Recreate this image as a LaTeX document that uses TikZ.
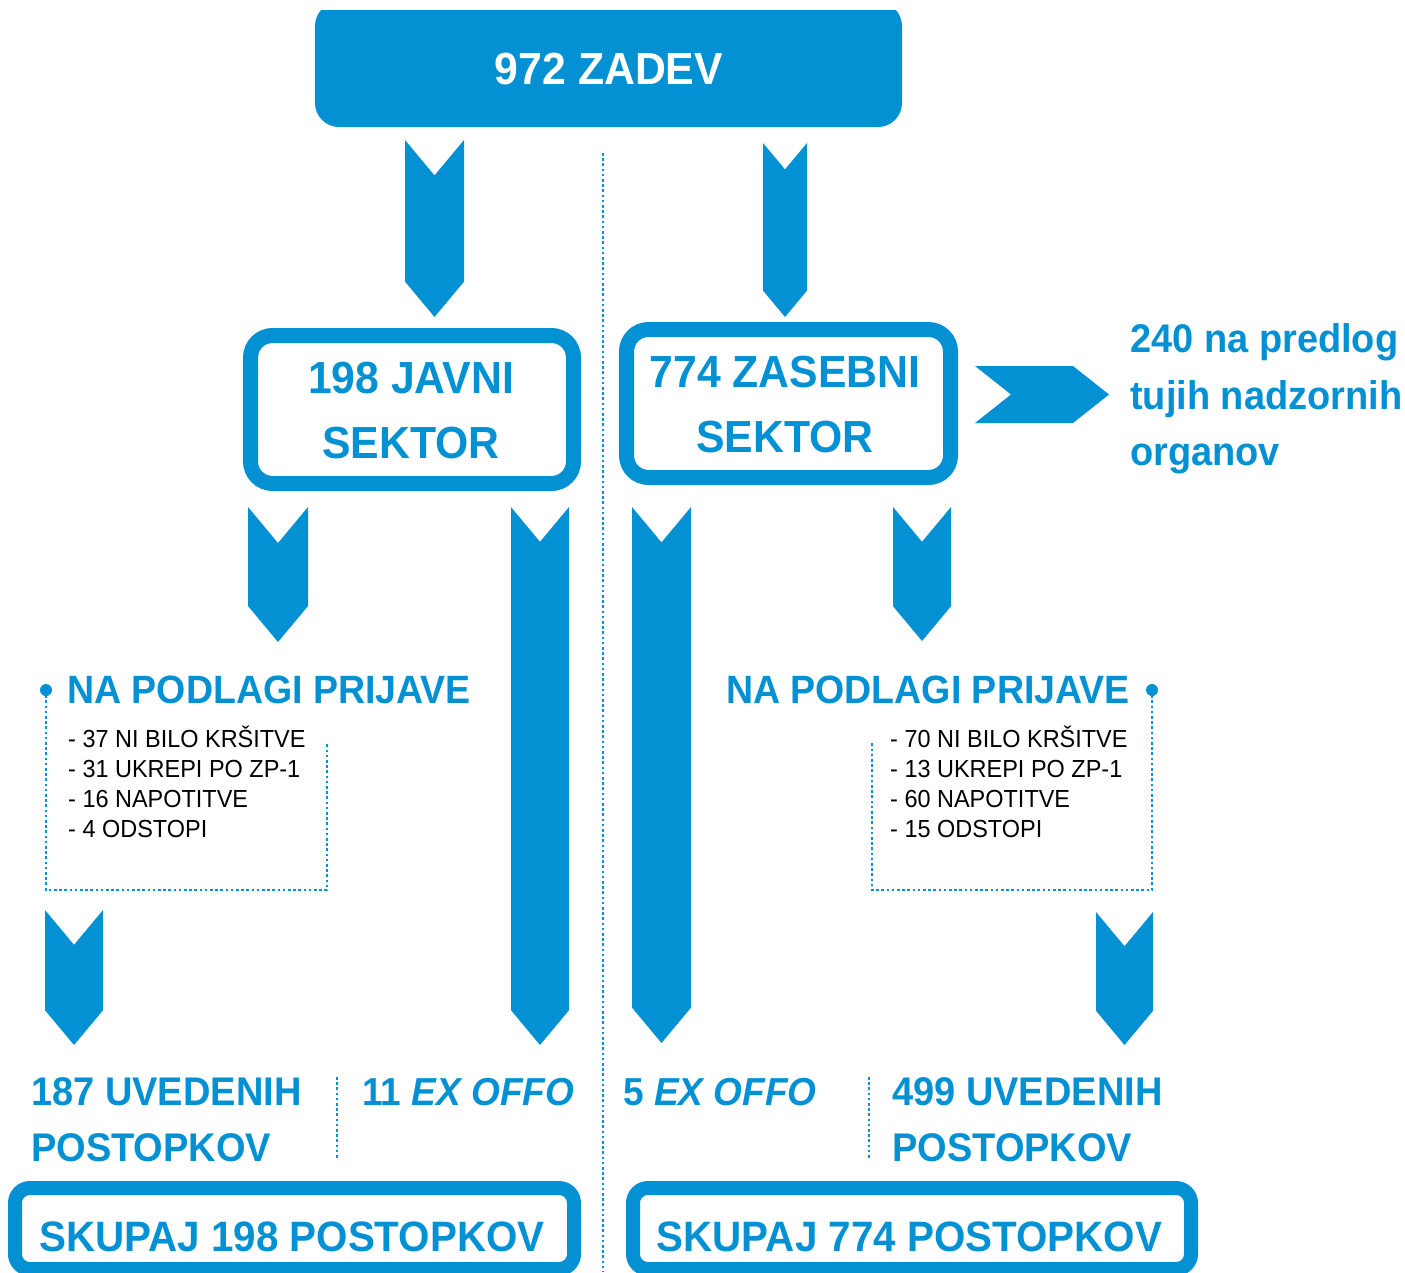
\documentclass[tikz,border=0pt]{standalone}
\usepackage{fontspec}
\setmainfont{Liberation Sans}
\newfontfamily\bfam[FakeStretch=0.95]{Liberation Sans}
\definecolor{myblue}{HTML}{0391D3}
\newcommand\fsz[1]{\fontsize{#1}{#1}\selectfont}
\newcommand\downchev[4]{\fill[chevfill] (#1,#3) -- ({(#1+#2)/2},{#3+0.6*(#2-#1)}) -- (#2,#3) -- (#2,{#4-0.6*(#2-#1)}) -- ({(#1+#2)/2},#4) -- (#1,{#4-0.6*(#2-#1)}) -- cycle;}
\begin{document}
\begin{tikzpicture}[x=1pt,y=-1pt,
  chevfill/.style={fill=myblue},
  bluebox/.style={draw=myblue, line width=15pt, rounded corners=22pt, inner sep=0pt},
  sumbox/.style={draw=myblue, line width=14pt, rounded corners=15pt, inner sep=0pt},
  lab/.style={text=myblue, font=\bfam\bfseries\fsz{#1}, inner sep=0pt},
  item/.style={text=black, font=\bfam\fsz{24.7}, inner sep=0pt, anchor=base west},
  dotline/.style={draw=myblue, line width=2.8pt, dash pattern=on 2.6pt off 2.6pt},
  bigdot/.style={circle, fill=myblue, minimum size=12pt, inner sep=0pt}]
\useasboundingbox (0,0) rectangle (1405,1272);
% top box
\begin{scope}
\clip (0,10) rectangle (1405,200);
\node[fill=myblue, rounded corners=24pt, minimum width=587pt, minimum height=125pt, inner sep=0pt] (top) at (608.5,64.5) {};
\end{scope}
\node[lab=45, text=white, anchor=base] (toptxt) at (609,84) {972 ZADEV};
% center dotted line
\coordinate (cA) at (603,153);
\coordinate (cB) at (603,1272);
\draw[dotline] (cA) -- (cB);
% first arrows
\downchev{405}{464}{140}{317}
\downchev{763}{807}{143}{317}
% sector boxes
\node[bluebox, minimum width=323pt, minimum height=148pt] (pub) at (412,409.5) {};
\node[lab=45, anchor=base] (pub1) at (411,393) {198 JAVNI};
\node[lab=45, anchor=base] (pub2) at (411,458) {SEKTOR};
\node[bluebox, minimum width=324pt, minimum height=148pt] (priv) at (788.5,403.5) {};
\node[lab=45, anchor=base] (priv1) at (785,387) {774 ZASEBNI};
\node[lab=45, anchor=base] (priv2) at (785,452) {SEKTOR};
% right chevron
\fill[chevfill] (975,366) -- (1011,394.5) -- (975,423) -- (1073,423) -- (1109,394.5) -- (1073,366) -- cycle;
\node[lab=40, anchor=base west] (for1) at (1130,352) {240 na predlog};
\node[lab=40, anchor=base west] (for2) at (1130,409) {tujih nadzornih};
\node[lab=40, anchor=base west] (for3) at (1130,465) {organov};
% second row arrows
\downchev{248}{308}{507}{642}
\downchev{511}{569}{507}{1045}
\downchev{632}{691}{507}{1043}
\downchev{893}{951}{507}{641}
% left detail
\node[lab=39.5, anchor=base west] (napL) at (67,703) {NA PODLAGI PRIJAVE};
\node[bigdot] (dotL) at (46,690) {};
\draw[dotline] (dotL.center) -- (46,890) -- (327,890) -- (327,743);
\node[item] (l1) at (68,747) {- 37 NI BILO KRŠITVE};
\node[item] (l2) at (68,777) {- 31 UKREPI PO ZP-1};
\node[item] (l3) at (68,807) {- 16 NAPOTITVE};
\node[item] (l4) at (68,837) {- 4 ODSTOPI};
% right detail
\node[lab=39.5, anchor=base east] (napR) at (1130,703) {NA PODLAGI PRIJAVE};
\node[bigdot] (dotR) at (1152,690) {};
\draw[dotline] (dotR.center) -- (1152,890) -- (872,890) -- (872,743);
\node[item] (r1) at (890,747) {- 70 NI BILO KRŠITVE};
\node[item] (r2) at (890,777) {- 13 UKREPI PO ZP-1};
\node[item] (r3) at (890,807) {- 60 NAPOTITVE};
\node[item] (r4) at (890,837) {- 15 ODSTOPI};
% third row arrows
\downchev{45}{103}{910}{1045}
\downchev{1096}{1153}{912}{1045}
% bottom labels
\node[lab=40, anchor=base west] (uvL1) at (31,1105) {187 UVEDENIH};
\node[lab=40, anchor=base west] (uvL2) at (31,1161) {POSTOPKOV};
\draw[dotline] (337,1077) -- (337,1160);
\node[lab=39, anchor=base west] (exL) at (362,1105) {11 \itshape EX OFFO};
\node[lab=39, anchor=base west] (exR) at (623,1105) {5 \itshape EX OFFO};
\draw[dotline] (869,1077) -- (869,1160);
\node[lab=40, anchor=base west] (uvR1) at (892,1105) {499 UVEDENIH};
\node[lab=40, anchor=base west] (uvR2) at (892,1161) {POSTOPKOV};
% sum boxes
\node[sumbox, minimum width=559pt, minimum height=81pt] (sumL) at (294.5,1228.5) {};
\node[lab=42.5, anchor=base] (sumLt) at (292,1251) {SKUPAJ 198 POSTOPKOV};
\node[sumbox, minimum width=558pt, minimum height=81pt] (sumR) at (912,1228.5) {};
\node[lab=42.5, anchor=base] (sumRt) at (909.5,1251) {SKUPAJ 774 POSTOPKOV};
\end{tikzpicture}
\end{document}
